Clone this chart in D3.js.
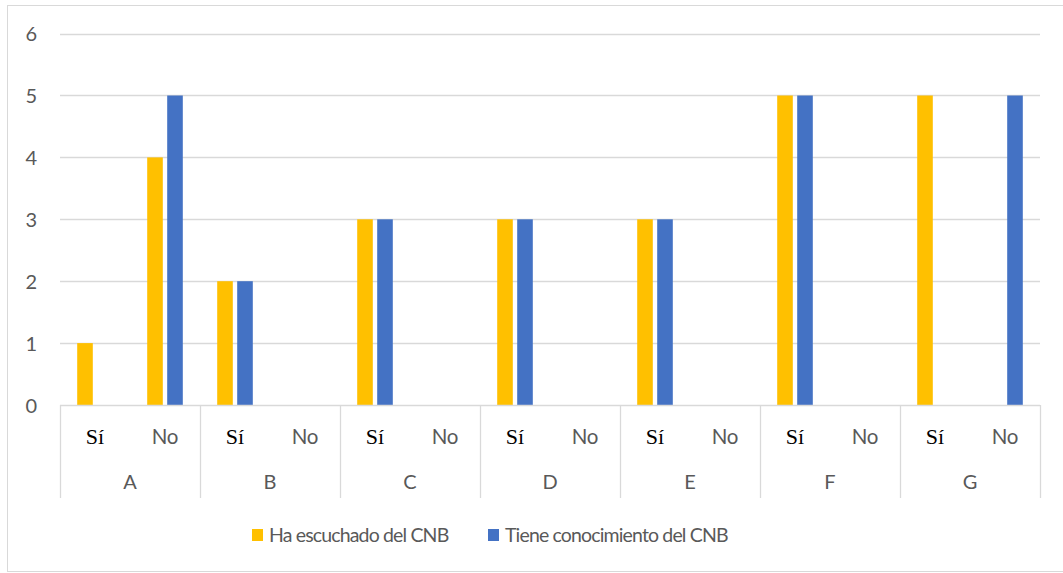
<!DOCTYPE html>
<html><head><meta charset="utf-8">
<script src="https://cdn.jsdelivr.net/npm/d3@7"></script>
<style>body{margin:0;background:#fff;} svg{display:block;}</style>
</head><body>
<svg id="chart" width="1063" height="573"></svg>
<script>
const groups = ["A","B","C","D","E","F","G"];
const subcats = ["Sí","No"];
const seriesNames = ["Ha escuchado del CNB","Tiene conocimiento del CNB"];
// values per group, order: [Sí, No]
const escuchado = [[1,4],[2,0],[3,0],[3,0],[3,0],[5,0],[5,0]];
const conocimiento = [[0,5],[2,0],[3,0],[3,0],[3,0],[5,0],[0,5]];
const yTicks = [0,1,2,3,4,5,6];
const colors = ["#FFC000","#4472C4"];

(function(){
const svg = d3.select("#chart");
const pLeft = 60, pRight = 1040, pTop = 33.6, pBottom = 405;
const sans = "Lato, 'Open Sans', sans-serif";

// chart border
svg.append("rect").attr("x",7.5).attr("y",5.5).attr("width",1070).attr("height",566)
  .attr("fill","none").attr("stroke","#D9D9D9").attr("stroke-width",1);

const y = d3.scaleLinear().domain([0,6]).range([pBottom, pTop]);
const keys = [];
groups.forEach(g => subcats.forEach(s => keys.push(g+"|"+s)));
const x0 = d3.scaleBand().domain(keys).range([pLeft,pRight]).padding(0);
const xg = d3.scaleBand().domain(groups).range([pLeft,pRight]).padding(0);
const x1 = d3.scaleBand().domain([0,1]).range([0,x0.bandwidth()]).paddingInner(0.22).paddingOuter(0.86);

// gridlines
svg.append("g").selectAll("line").data(yTicks.filter(d=>d>0)).join("line")
  .attr("x1",pLeft).attr("x2",pRight).attr("y1",d=>Math.round(y(d))+0.5).attr("y2",d=>Math.round(y(d))+0.5)
  .attr("stroke","#D9D9D9").attr("stroke-width",1.3);

// y labels
svg.append("g").selectAll("text").data(yTicks).join("text")
  .attr("x",37).attr("y",d=>y(d)+7.5).attr("text-anchor","end")
  .attr("font-family",sans).attr("font-size",20).attr("fill","#595959")
  .text(d=>d);

// bars
const data = [];
groups.forEach((g,gi) => subcats.forEach((s,si) => {
  data.push({key:g+"|"+s, series:0, value:escuchado[gi][si]});
  data.push({key:g+"|"+s, series:1, value:conocimiento[gi][si]});
}));
svg.append("g").selectAll("rect").data(data.filter(d=>d.value>0)).join("rect")
  .attr("x",d=>x0(d.key)+x1(d.series)).attr("width",x1.bandwidth())
  .attr("y",d=>y(d.value)).attr("height",d=>y(0)-y(d.value))
  .attr("fill",d=>colors[d.series]);

// x axis line
svg.append("line").attr("x1",pLeft).attr("x2",pRight).attr("y1",405.5).attr("y2",405.5)
  .attr("stroke","#D9D9D9").attr("stroke-width",1.3);
// group separators
const seps = groups.map(g=>xg(g)).concat([pRight]);
svg.append("g").selectAll("line").data(seps).join("line")
  .attr("x1",d=>Math.round(d)+0.5).attr("x2",d=>Math.round(d)+0.5).attr("y1",405).attr("y2",498)
  .attr("stroke","#D9D9D9").attr("stroke-width",1.3);

// sub labels
svg.append("g").selectAll("text").data(keys).join("text")
  .attr("x",d=>x0(d)+x0.bandwidth()/2).attr("y",444).attr("text-anchor","middle")
  .each(function(d){
    const s = d.split("|")[1];
    const t = d3.select(this);
    if (s==="Sí") t.attr("font-family","'Liberation Serif', 'Times New Roman', serif").attr("font-size",22).attr("fill","#000");
    else t.attr("font-family",sans).attr("font-size",20.5).attr("fill","#595959").attr("letter-spacing",-0.3);
  })
  .text(d=>d.split("|")[1]);

// group labels
svg.append("g").selectAll("text").data(groups).join("text")
  .attr("x",d=>xg(d)+xg.bandwidth()/2).attr("y",489).attr("text-anchor","middle")
  .attr("font-family",sans).attr("font-size",20).attr("fill","#595959")
  .text(d=>d);

// legend
const legX = [252, 488];
const leg = svg.append("g").selectAll("g").data(seriesNames).join("g")
  .attr("transform",(d,i)=>`translate(${legX[i]},0)`);
leg.append("rect").attr("x",0).attr("y",529).attr("width",11).attr("height",12).attr("fill",(d,i)=>colors[i]);
leg.append("text").attr("x",17).attr("y",541.5)
  .attr("font-family",sans).attr("font-size",19.5).attr("letter-spacing",-0.85).attr("fill","#595959")
  .text(d=>d);
})();
</script>
</body></html>
